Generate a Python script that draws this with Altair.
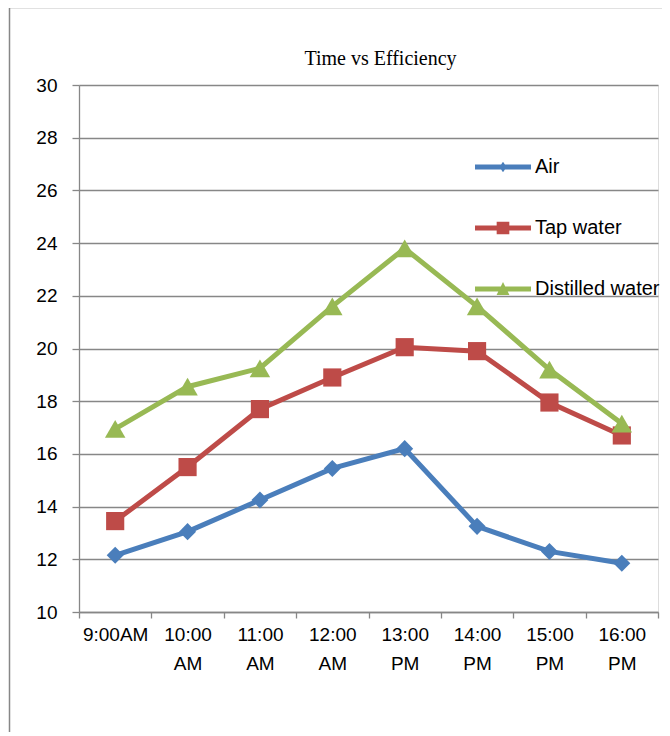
import altair as alt
import pandas as pd

times = ["9:00AM", "10:00 AM", "11:00 AM", "12:00 AM", "13:00 PM", "14:00 PM", "15:00 PM", "16:00 PM"]
series_names = ["Air", "Tap water", "Distilled water"]
air = [12.15, 13.05, 14.25, 15.45, 16.2, 13.25, 12.3, 11.85]
tap = [13.45, 15.5, 17.7, 18.9, 20.05, 19.9, 17.95, 16.7]
distilled = [16.95, 18.55, 19.25, 21.6, 23.8, 21.6, 19.2, 17.15]
y_ticks = [10, 12, 14, 16, 18, 20, 22, 24, 26, 28, 30]

colors = ["#4a7ebb", "#be4b48", "#98b954"]
shapes = ["diamond", "square", "triangle-up"]
marker_sizes = [290, 330, 420]
legend_paths = [
    "M-1,-0.09L1,-0.09L1,0.09L-1,0.09Z M0,-0.19L0.13,0L0,0.19L-0.13,0Z",
    "M-1,-0.09L1,-0.09L1,0.09L-1,0.09Z M-0.226,-0.226L0.226,-0.226L0.226,0.226L-0.226,0.226Z",
    "M-1,-0.09L1,-0.09L1,0.09L-1,0.09Z M0,-0.25L0.23,0.214L-0.23,0.214Z",
]

rows = []
for s, vals in zip(series_names, [air, tap, distilled]):
    for i, (t, v) in enumerate(zip(times, vals)):
        rows.append({"idx": i, "time": t, "series": s, "value": v})
df = pd.DataFrame(rows)

W, H = 579, 527
step = W / len(times)
label_arr = "[" + ",".join("'" + t + "'" for t in times) + "]"
label_expr = f"datum.value < {len(times) - 1} ? split({label_arr}[datum.value + 0.5], ' ') : ''"

grey = "#878787"
FONT = "Liberation Sans"

x_enc = alt.X(
    "idx:Q",
    scale=alt.Scale(domain=[-0.5, len(times) - 0.5], nice=False, zero=False),
    axis=alt.Axis(
        values=[i - 0.5 for i in range(len(times) + 1)],
        labelExpr=label_expr,
        labelOffset=step / 2,
        labelBound=False,
        labelOverlap=False,
        labelFlush=False,
        labelAlign="center",
        labelBaseline="top",
        labelLineHeight=29,
        labelPadding=7,
        labelFont=FONT,
        labelFontSize=19,
        labelColor="#000000",
        tickSize=6,
        tickColor=grey,
        tickWidth=1.3,
        domainColor=grey,
        domainWidth=1.3,
        grid=False,
        title=None,
    ),
)
y_enc = alt.Y(
    "value:Q",
    scale=alt.Scale(domain=[10, 30], nice=False, zero=False),
    axis=alt.Axis(
        values=y_ticks,
        grid=True,
        gridColor=grey,
        gridWidth=1.3,
        gridOpacity=1,
        tickSize=7,
        tickColor=grey,
        tickWidth=1.3,
        domainColor=grey,
        domainWidth=1.3,
        labelPadding=15,
        labelFont=FONT,
        labelFontSize=19,
        labelColor="#000000",
        title=None,
    ),
)

line_layers = []
point_layers = []
for s, c, shp, sz in zip(series_names, colors, shapes, marker_sizes):
    base = alt.Chart(df).transform_filter(alt.datum.series == s)
    line_layers.append(
        base.mark_line(strokeWidth=5, color=c).encode(x=x_enc, y=y_enc)
    )
    point_layers.append(
        base.mark_point(filled=True, opacity=1, size=sz, shape=shp, color=c).encode(x=x_enc, y=y_enc)
    )

legend_props = dict(
    orient="none",
    legendX=396,
    legendY=54,
    title=None,
    padding=0,
    symbolSize=3136,
    rowPadding=23,
    labelOffset=4,
    labelFont=FONT,
    labelFontSize=20,
    labelColor="#000000",
    labelLimit=300,
    symbolStrokeWidth=0,
    symbolOpacity=1,
)

legend_layer = (
    alt.Chart(df)
    .transform_filter("false")
    .mark_point(filled=True, opacity=1, size=3136)
    .encode(
        x=x_enc,
        y=y_enc,
        color=alt.Color(
            "series:N",
            scale=alt.Scale(domain=series_names, range=colors),
            legend=alt.Legend(**legend_props),
        ),
        shape=alt.Shape(
            "series:N",
            scale=alt.Scale(domain=series_names, range=legend_paths),
            legend=alt.Legend(**legend_props),
        ),
    )
)

frame_data = alt.Data(values=[{"a": 1}])
frame_left = alt.Chart(frame_data).mark_rule(color=grey, strokeWidth=1.5).encode(
    x=alt.value(-69.5), y=alt.value(-77.5), y2=alt.value(700)
)
frame_top = alt.Chart(frame_data).mark_rule(color=grey, strokeWidth=1.5).encode(
    x=alt.value(-69.5), x2=alt.value(700), y=alt.value(-77.5)
)

chart = (
    alt.layer(frame_left, frame_top, *line_layers, *point_layers, legend_layer)
    .properties(
        width=W,
        height=H,
        autosize=alt.AutoSizeParams(type="none"),
        padding={"left": 71, "top": 77, "right": 4, "bottom": 120},
        title=alt.TitleParams(
            "Time vs Efficiency",
            font="Liberation Serif",
            fontSize=20,
            fontWeight="normal",
            color="#000000",
            anchor="middle",
            baseline="alphabetic",
            dx=12,
            dy=78,
            offset=0,
        ),
    )
    .configure_view(stroke=None)
    .configure(background="white")
)

chart.save("out.html", embed_options={"renderer": "svg", "actions": False})
